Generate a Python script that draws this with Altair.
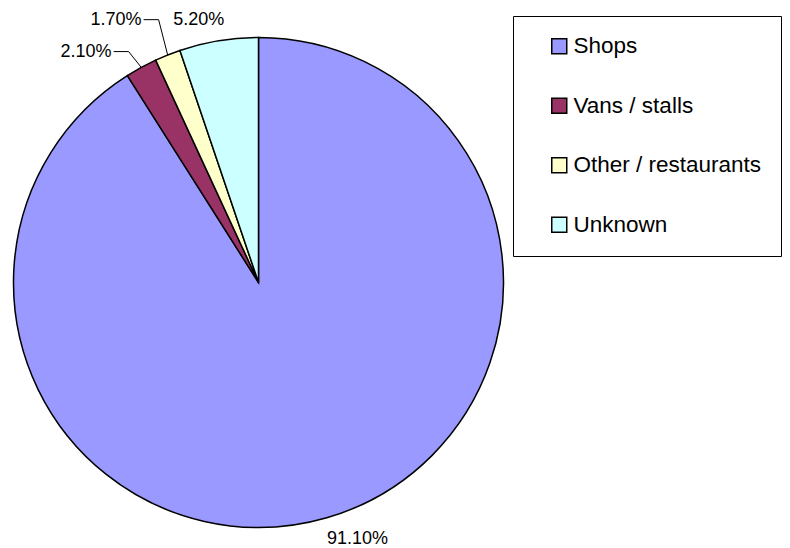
import altair as alt
import pandas as pd

categories = ["Shops", "Vans / stalls", "Other / restaurants", "Unknown"]
values = [91.1, 2.1, 1.7, 5.2]
label_texts = ["91.10%", "2.10%", "1.70%", "5.20%"]
colors = ["#9999FF", "#993366", "#FFFFCC", "#CCFFFF"]

df = pd.DataFrame({"category": categories, "value": values, "label": label_texts})

# layout (pixels)
CX, CY, R = 258.5, 282.5, 245
FONT = "Liberation Sans"
# label anchor: radius from centre, extra horizontal shift, leader line or not
LAYOUT = {
    "Shops": (267.5, -6, False),
    "Vans / stalls": (263, -4, True),
    "Other / restaurants": (283, 5, True),
    "Unknown": (266, 9, False),
}


def expr(idx, default):
    s = str(default)
    for k, v in LAYOUT.items():
        val = v[idx]
        if isinstance(val, bool):
            val = "true" if val else "false"
        s = f"datum.category === '{k}' ? {val} : ({s})"
    return s


base = (
    alt.Chart(df)
    .transform_window(idx="row_number()", cum="sum(value)", frame=[None, 0])
    .transform_joinaggregate(total="sum(value)")
    .transform_calculate(
        mid="2*PI*(datum.cum - datum.value/2)/datum.total",
        rl=expr(0, 260),
        ddx=expr(1, 0),
        leader=expr(2, "false"),
    )
    .transform_calculate(
        sx=f"{CX} + {R}*sin(datum.mid)",
        sy=f"{CY} - {R}*cos(datum.mid)",
        ex=f"{CX} + datum.rl*sin(datum.mid) + datum.ddx",
        ey=f"{CY} - datum.rl*cos(datum.mid)",
    )
    .transform_calculate(
        hx="datum.ex - 15",
        tx="datum.leader ? datum.ex - 17 : datum.ex",
    )
)

pie = (
    alt.Chart(df)
    .transform_window(idx="row_number()")
    .mark_arc(stroke="black", strokeWidth=1.5, radius=R)
    .encode(
        theta=alt.Theta("value:Q", stack=True),
        order=alt.Order("idx:Q"),
        color=alt.Color(
            "category:N",
            scale=alt.Scale(domain=categories, range=colors),
            legend=alt.Legend(
                title=None,
                orient="none",
                legendX=513,
                legendY=16,
                fillColor="white",
                strokeColor="black",
                padding=19,
                symbolType="square",
                symbolSize=225,
                symbolStrokeColor="black",
                symbolStrokeWidth=1.5,
                symbolOffset=16,
                labelFont=FONT,
                labelFontSize=22.5,
                labelColor="black",
                labelOffset=3,
                rowPadding=36.5,
                labelLimit=400,
            ),
        ),
        x=alt.value(CX),
        y=alt.value(CY),
    )
)

lead = base.transform_filter("datum.leader")
seg1 = lead.mark_rule(color="black", strokeWidth=1).encode(
    x=alt.X("sx:Q", scale=None), y=alt.Y("sy:Q", scale=None),
    x2="ex:Q", y2="ey:Q",
)
seg2 = lead.mark_rule(color="black", strokeWidth=1).encode(
    x=alt.X("ex:Q", scale=None), x2="hx:Q", y=alt.Y("ey:Q", scale=None),
)

txt_right = base.transform_filter("datum.category !== 'Shops'").mark_text(
    align="right", baseline="middle", font=FONT, fontSize=18, color="black"
).encode(x=alt.X("tx:Q", scale=None), y=alt.Y("ey:Q", scale=None), text="label:N")

txt_left = base.transform_filter("datum.category === 'Shops'").mark_text(
    align="left", baseline="middle", font=FONT, fontSize=18, color="black"
).encode(x=alt.X("tx:Q", scale=None), y=alt.Y("ey:Q", scale=None), text="label:N")

chart = (
    alt.layer(pie, seg1, seg2, txt_right, txt_left)
    .properties(width=790, height=548, autosize="none", padding=0, background="white")
    .configure_view(stroke=None)
    .configure_legend(strokeWidth=1)
)

chart.save("out.html", embed_options={"renderer": "svg", "actions": False})
